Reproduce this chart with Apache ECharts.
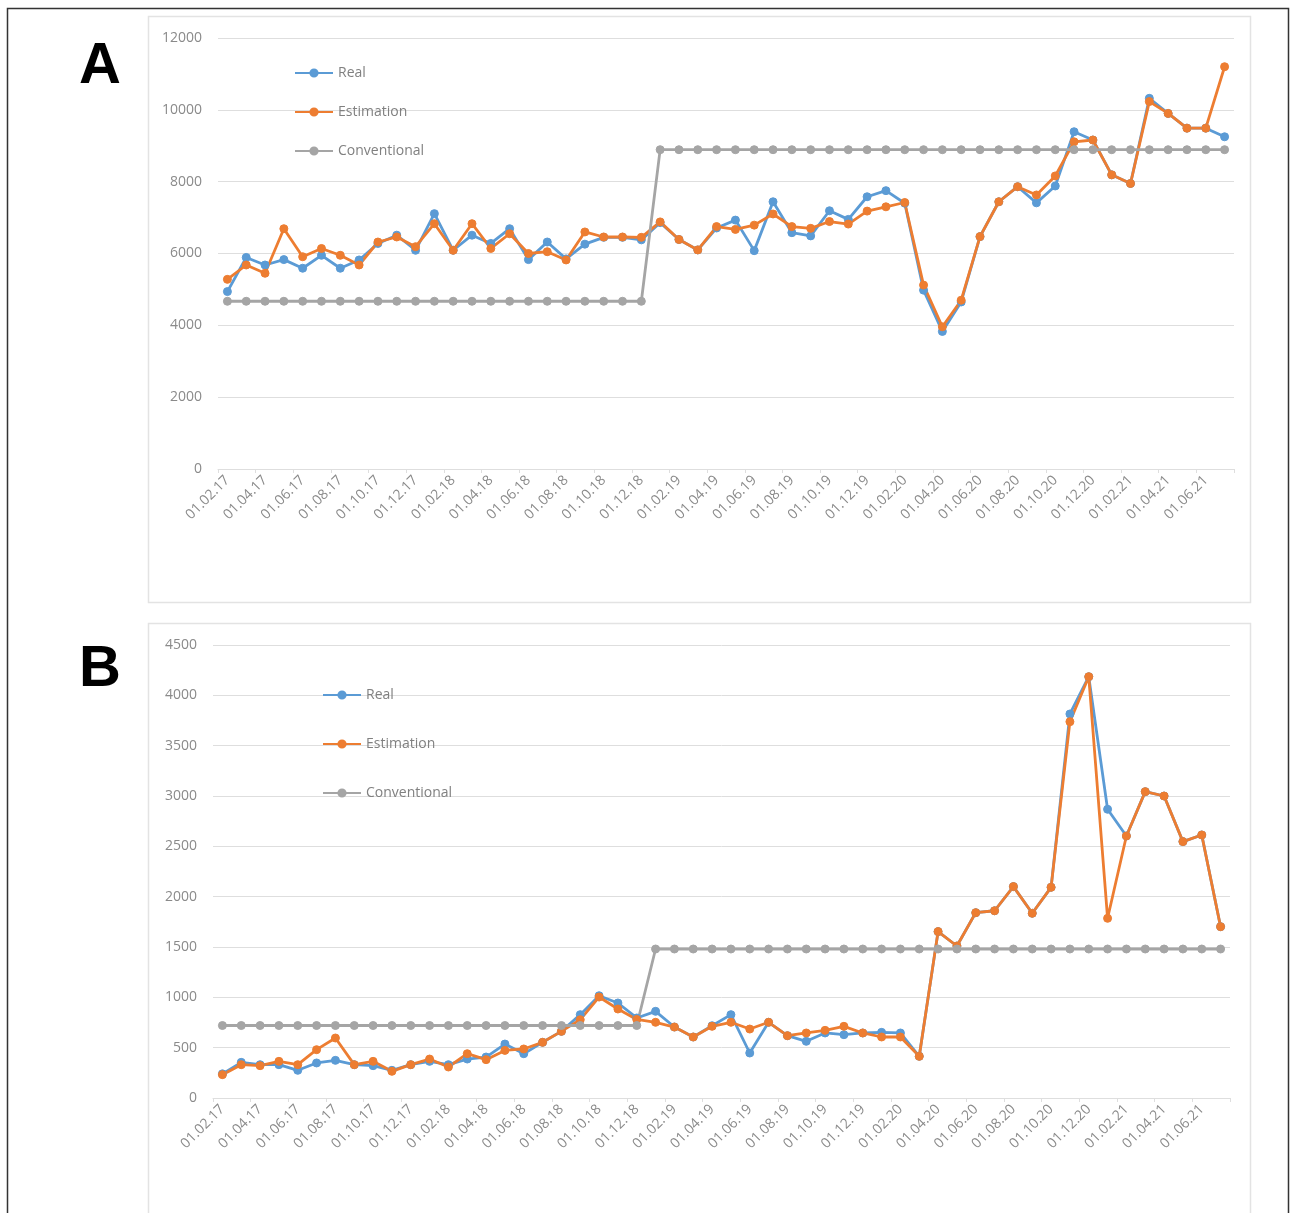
<!DOCTYPE html>
<html>
<head>
<meta charset="utf-8">
<script src="https://cdn.jsdelivr.net/npm/echarts@6/dist/echarts.min.js"></script>
<style>
  html, body { margin: 0; padding: 0; background: #ffffff; }
  #chart { width: 1293px; height: 1213px; }
</style>
</head>
<body>
<div id="chart"></div>
<script>
// ---- Data ----
const categories = [
  "01.02.17","01.03.17","01.04.17","01.05.17","01.06.17","01.07.17","01.08.17","01.09.17","01.10.17","01.11.17","01.12.17",
  "01.01.18","01.02.18","01.03.18","01.04.18","01.05.18","01.06.18","01.07.18","01.08.18","01.09.18","01.10.18","01.11.18","01.12.18",
  "01.01.19","01.02.19","01.03.19","01.04.19","01.05.19","01.06.19","01.07.19","01.08.19","01.09.19","01.10.19","01.11.19","01.12.19",
  "01.01.20","01.02.20","01.03.20","01.04.20","01.05.20","01.06.20","01.07.20","01.08.20","01.09.20","01.10.20","01.11.20","01.12.20",
  "01.01.21","01.02.21","01.03.21","01.04.21","01.05.21","01.06.21","01.07.21"
];

const realA = [4940,5890,5680,5830,5590,5950,5590,5820,6280,6510,6090,7110,6090,6510,6280,6690,5830,6320,5850,6260,6450,6450,6380,
  6860,6390,6100,6710,6930,6080,7440,6580,6490,7190,6950,7580,7750,7400,4980,3830,4650,6470,7440,7860,7410,7880,9390,9160,8190,7950,10320,9900,9490,9490,9250];
const estA = [5280,5680,5450,6690,5910,6140,5950,5680,6320,6460,6190,6830,6090,6830,6140,6550,6000,6050,5820,6600,6460,6460,6450,
  6880,6390,6100,6750,6670,6790,7100,6750,6700,6890,6820,7180,7300,7420,5120,3960,4700,6470,7440,7860,7630,8160,9110,9160,8190,7950,10230,9900,9490,9490,11200];
const convA = [4670,4670,4670,4670,4670,4670,4670,4670,4670,4670,4670,4670,4670,4670,4670,4670,4670,4670,4670,4670,4670,4670,4670,
  8890,8890,8890,8890,8890,8890,8890,8890,8890,8890,8890,8890,8890,8890,8890,8890,8890,8890,8890,8890,8890,8890,8890,8890,8890,8890,8890,8890,8890,8890,8890];

const realB = [240,354,331,331,275,348,374,331,321,275,331,364,331,387,407,536,440,553,662,828,1016,944,795,
  861,705,606,718,828,447,752,619,563,646,629,646,652,646,414,1653,1510,1841,1860,2100,1835,2093,3815,4185,2868,2603,3043,3000,2547,2613,1702];
const estB = [232,331,321,364,331,480,596,331,364,265,331,387,308,440,381,473,487,553,662,778,1003,884,780,
  752,705,606,712,752,685,752,619,646,672,712,646,606,606,414,1653,1510,1841,1860,2100,1835,2093,3738,4185,1785,2603,3043,3000,2547,2613,1702];
const convB = [720,720,720,720,720,720,720,720,720,720,720,720,720,720,720,720,720,720,720,720,720,720,720,
  1480,1480,1480,1480,1480,1480,1480,1480,1480,1480,1480,1480,1480,1480,1480,1480,1480,1480,1480,1480,1480,1480,1480,1480,1480,1480,1480,1480,1480,1480,1480];

const seriesNames = ["Real", "Estimation", "Conventional"];
const colors = ["#5B9BD5", "#ED7D31", "#A5A5A5"];

// ---- Chart ----
const chart = echarts.init(document.getElementById('chart'), null, { renderer: 'canvas' });
const FONT = "Open Sans";
const labelColor = "#8a8a8a";
const gridColor = "#dedede";

function xAxisFor(gi) {
  return {
    type: 'category', gridIndex: gi, data: categories, boundaryGap: true,
    axisLine: { show: true, lineStyle: { color: gridColor, width: 1 } },
    axisTick: { show: true, interval: 1, length: 4, lineStyle: { color: gridColor } },
    axisLabel: { interval: 1, rotate: 45, color: labelColor, fontFamily: FONT, fontSize: 14, margin: 9 },
    splitLine: { show: false }
  };
}
function yAxisFor(gi, max, interval) {
  return {
    type: 'value', gridIndex: gi, min: 0, max: max, interval: interval,
    axisLine: { show: false }, axisTick: { show: false },
    axisLabel: { color: labelColor, fontFamily: FONT, fontSize: 14, margin: 16, formatter: function (v) { return String(v); } },
    splitLine: { show: true, lineStyle: { color: gridColor, width: 1 } }
  };
}
function lineSeries(name, data, color, gi) {
  return {
    name: name, type: 'line', xAxisIndex: gi, yAxisIndex: gi, data: data,
    symbol: 'circle', symbolSize: 8, showAllSymbol: true,
    lineStyle: { color: color, width: 2.8 },
    itemStyle: { color: color, borderColor: color, borderWidth: 1 },
    emphasis: { disabled: true }, animation: false
  };
}
function legendFor(left, top, gap) {
  return {
    orient: 'vertical', left: left, top: top, itemGap: gap,
    itemWidth: 38, itemHeight: 9,
    data: seriesNames,
    textStyle: { color: '#808080', fontFamily: FONT, fontSize: 14, lineHeight: 16 },
    selectedMode: false
  };
}

const option = {
  backgroundColor: '#ffffff',
  animation: false,
  color: colors,
  grid: [
    { left: 218, top: 38, width: 1016, height: 431, containLabel: false },
    { left: 213, top: 645, width: 1017, height: 453, containLabel: false }
  ],
  xAxis: [xAxisFor(0), xAxisFor(1)],
  yAxis: [yAxisFor(0, 12000, 2000), yAxisFor(1, 4500, 500)],
  legend: [legendFor(289, 60, 23), legendFor(317, 682, 33)],
  graphic: [
    { type: 'rect', shape: { x: 7.5, y: 8.5, width: 1281, height: 1230 }, style: { fill: 'none', stroke: '#333333', lineWidth: 1.5 }, silent: true, z: -10 },
    { type: 'rect', shape: { x: 148.5, y: 16.5, width: 1102, height: 586 }, style: { fill: 'none', stroke: '#e3e3e3', lineWidth: 1.5 }, silent: true, z: -10 },
    { type: 'rect', shape: { x: 148.5, y: 623.5, width: 1102, height: 620 }, style: { fill: 'none', stroke: '#e3e3e3', lineWidth: 1.5 }, silent: true, z: -10 },
    { type: 'text', left: 79, top: 38, style: { text: 'A', fill: '#000000', font: 'bold 58px "Liberation Sans", Arial, sans-serif' }, silent: true },
    { type: 'text', left: 79, top: 641, style: { text: 'B', fill: '#000000', font: 'bold 58px "Liberation Sans", Arial, sans-serif' }, silent: true }
  ],
  series: [
    lineSeries("Real", realA, colors[0], 0),
    lineSeries("Estimation", estA, colors[1], 0),
    lineSeries("Conventional", convA, colors[2], 0),
    lineSeries("Real", realB, colors[0], 1),
    lineSeries("Estimation", estB, colors[1], 1),
    lineSeries("Conventional", convB, colors[2], 1)
  ]
};
chart.setOption(option);
</script>
</body>
</html>
